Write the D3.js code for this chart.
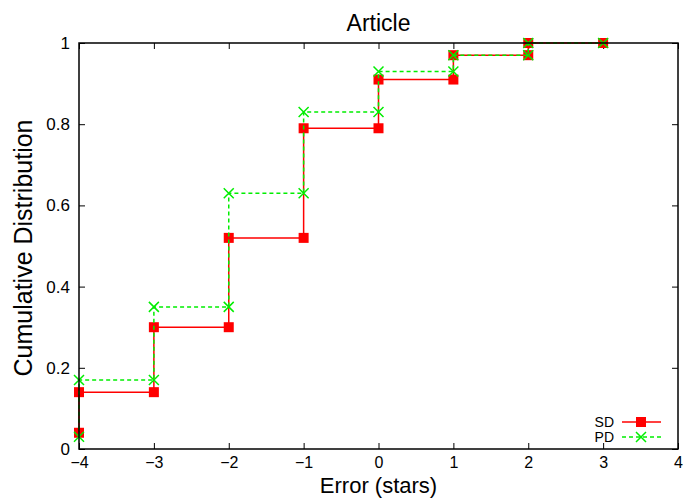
<!DOCTYPE html>
<html>
<head>
<meta charset="utf-8">
<script src="https://cdn.jsdelivr.net/npm/d3@7"></script>
<style>
  html, body { margin: 0; padding: 0; background: #fff; }
  svg { display: block; font-family: "Liberation Sans", Arial, sans-serif; }
</style>
</head>
<body>
<svg id="chart" width="688" height="499"></svg>
<script>
// === DATA ===

// step points: x positions of each corner of the staircase
const xs = [-4, -4, -3, -3, -2, -2, -1, -1, 0, 0, 1, 1, 2, 2, 3];
const sdValues = [0.04, 0.14, 0.14, 0.30, 0.30, 0.52, 0.52, 0.79, 0.79, 0.91, 0.91, 0.97, 0.97, 1.0, 1.0];
const pdValues = [0.03, 0.17, 0.17, 0.35, 0.35, 0.63, 0.63, 0.83, 0.83, 0.93, 0.93, 0.97, 0.97, 1.0, 1.0];

const xTicks = [-4, -3, -2, -1, 0, 1, 2, 3, 4];
const yTicks = [0, 0.2, 0.4, 0.6, 0.8, 1];

const margin = { top: 43, right: 10, bottom: 50, left: 79 };
const width = 688, height = 499;
const TICK = 6;

const svg = d3.select('#chart');

const x = d3.scaleLinear().domain([-4, 4]).range([margin.left, width - margin.right]);
const y = d3.scaleLinear().domain([0, 1]).range([height - margin.bottom, margin.top]);

const x0 = x.range()[0], x1 = x.range()[1];
const y0 = y.range()[0], y1 = y.range()[1];

// === AXES (gnuplot style: ticks pointing inward, mirrored) ===

const fmtY = d => d === 0 ? '0' : d === 1 ? '1' : d3.format('.1f')(d);

svg.append('g')
    .attr('transform', `translate(0,${y0})`)
    .call(d3.axisBottom(x).tickValues(xTicks).tickSize(-TICK).tickPadding(8).tickFormat(d3.format('d')))
    .call(g => g.select('.domain').remove())
    .call(g => g.selectAll('text').attr('font-size', 16).attr('fill', '#000').attr('font-family', 'Liberation Sans, Arial, sans-serif'));

svg.append('g')
    .attr('transform', `translate(0,${y1})`)
    .call(d3.axisTop(x).tickValues(xTicks).tickSize(-TICK).tickFormat(''))
    .call(g => g.select('.domain').remove());

svg.append('g')
    .attr('transform', `translate(${x0},0)`)
    .call(d3.axisLeft(y).tickValues(yTicks).tickSize(-TICK).tickPadding(9).tickFormat(fmtY))
    .call(g => g.select('.domain').remove())
    .call(g => g.selectAll('text').attr('font-size', 17).attr('fill', '#000').attr('font-family', 'Liberation Sans, Arial, sans-serif'));

svg.append('g')
    .attr('transform', `translate(${x1},0)`)
    .call(d3.axisRight(y).tickValues(yTicks).tickSize(-TICK).tickFormat(''))
    .call(g => g.select('.domain').remove());

svg.selectAll('.tick line').attr('stroke', '#000').attr('stroke-width', 1);

// === SERIES ===

const line = d3.line().x(d => x(d[0])).y(d => y(d[1]));
const sdPts = xs.map((v, i) => [v, sdValues[i]]);
const pdPts = xs.map((v, i) => [v, pdValues[i]]);

svg.append('path')
    .datum(sdPts)
    .attr('fill', 'none')
    .attr('stroke', '#ff0000')
    .attr('stroke-width', 1.5)
    .attr('d', line);

svg.selectAll('.sd-pt')
    .data(sdPts)
    .join('rect')
    .attr('class', 'sd-pt')
    .attr('x', d => x(d[0]) - 5)
    .attr('y', d => y(d[1]) - 5)
    .attr('width', 10)
    .attr('height', 10)
    .attr('fill', '#ff0000');

svg.append('path')
    .datum(pdPts)
    .attr('fill', 'none')
    .attr('stroke', '#00ee00')
    .attr('stroke-width', 1.5)
    .attr('stroke-dasharray', '4,3')
    .attr('d', line);

function cross(g, cx, cy, r) {
    g.append('path')
        .attr('d', `M${cx - r},${cy - r}L${cx + r},${cy + r}M${cx - r},${cy + r}L${cx + r},${cy - r}`)
        .attr('stroke', '#00ee00')
        .attr('stroke-width', 1.5)
        .attr('fill', 'none');
}

const pdG = svg.append('g');
pdPts.forEach(d => cross(pdG, x(d[0]), y(d[1]), 5));

// === FRAME ===

svg.append('rect')
    .attr('x', x0).attr('y', y1)
    .attr('width', x1 - x0).attr('height', y0 - y1)
    .attr('fill', 'none')
    .attr('stroke', '#000')
    .attr('stroke-width', 1.5);

// === LEGEND ===

const legend = [
    { name: 'SD', color: '#ff0000', dash: null, marker: 'square', yy: 422 },
    { name: 'PD', color: '#00ee00', dash: '4,3', marker: 'cross', yy: 437 }
];

legend.forEach(l => {
    svg.append('text')
        .attr('x', 614).attr('y', l.yy).attr('dy', '0.35em')
        .attr('text-anchor', 'end')
        .attr('font-size', 14)
        .text(l.name);
    svg.append('line')
        .attr('x1', 622).attr('x2', 661)
        .attr('y1', l.yy).attr('y2', l.yy)
        .attr('stroke', l.color)
        .attr('stroke-width', 1.5)
        .attr('stroke-dasharray', l.dash);
    if (l.marker === 'square') {
        svg.append('rect')
            .attr('x', 641 - 5).attr('y', l.yy - 5)
            .attr('width', 10).attr('height', 10)
            .attr('fill', l.color);
    } else {
        cross(svg, 641, l.yy, 5);
    }
});

// === TITLES ===

svg.append('text')
    .attr('x', (x0 + x1) / 2).attr('y', 31)
    .attr('text-anchor', 'middle')
    .attr('font-size', 23)
    .text('Article');

svg.append('text')
    .attr('x', (x0 + x1) / 2).attr('y', 493)
    .attr('text-anchor', 'middle')
    .attr('font-size', 22)
    .text('Error (stars)');

svg.append('text')
    .attr('transform', `translate(32,${(y0 + y1) / 2 + 2}) rotate(-90)`)
    .attr('text-anchor', 'middle')
    .attr('font-size', 25)
    .text('Cumulative Distribution');
</script>
</body>
</html>
